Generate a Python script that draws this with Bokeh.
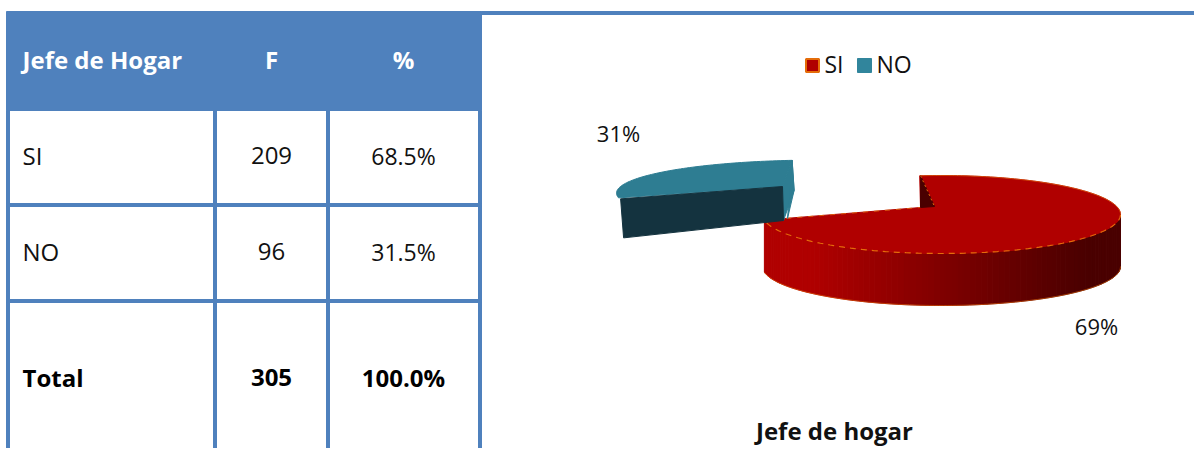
import numpy as np
from bokeh.plotting import figure
from bokeh.models import Range1d
from bokeh.core.properties import value
from bokeh.embed import file_html
from bokeh.resources import INLINE

# ---- data ----
headers = ["Jefe de Hogar", "F", "%"]
categories = ["SI", "NO"]
frequencies = [209, 96]
row_percents = ["68.5%", "31.5%"]
total_row = ["Total", "305", "100.0%"]
pie_labels = ["69%", "31%"]
chart_title = "Jefe de hogar"

# ---- style ----
BLUE = "#4f81bd"
RED = "#b00000"
RED_DARK = "#4a0000"
TEAL = "#2e7d92"
TEAL_DARK = "#14333f"
TEAL_LEGEND = "#31859c"
ORANGE = "#e46c0a"
FONT = value("Open Sans")

W, H = 1194, 448
p = figure(width=W, height=H, output_backend="svg", toolbar_location=None,
           x_range=Range1d(0, W), y_range=Range1d(H, 0),
           min_border=0)
p.axis.visible = False
p.grid.visible = False
p.outline_line_color = None

# ---- table ----
p.quad(left=[6], right=[481], top=[11], bottom=[110], color=BLUE)
p.quad(left=[481], right=[W], top=[11], bottom=[14], color=BLUE)
p.quad(left=[6, 213, 326, 478], right=[9, 216, 329, 481],
       top=[110] * 4, bottom=[H] * 4, color=BLUE)
p.quad(left=[6, 6], right=[481, 481], top=[203, 299], bottom=[206, 302], color=BLUE)

COL_X = [22, 271, 403]
ROW_Y = [155, 251]
def txt(x, y, s, size, color="#111111", align="center", style="normal"):
    p.text(x=[x], y=[y], text=[s], text_font=FONT, text_font_size=size, text_color=color,
           text_align=align, text_baseline="middle", text_font_style=style)

txt(COL_X[0], 59, headers[0], "24px", "white", "left", "bold")
txt(COL_X[1], 59, headers[1], "24px", "white", "center", "bold")
txt(COL_X[2], 59, headers[2], "24px", "white", "center", "bold")
for yy, c, f, pc in zip(ROW_Y, categories, frequencies, row_percents):
    txt(COL_X[0], yy, c, "24px", align="left")
    txt(COL_X[1], yy, str(f), "24px")
    txt(COL_X[2], yy, pc, "23px")
txt(COL_X[0], 377, total_row[0], "24px", "black", "left", "bold")
txt(COL_X[1], 377, total_row[1], "24px", "black", "center", "bold")
txt(COL_X[2], 377, total_row[2], "24px", "black", "center", "bold")

# ---- pseudo-3D pie ----
frac = frequencies[0] / sum(frequencies)
PHI0 = -7.0       # where the first slice starts on the ellipse
SKEW = 22.0       # perspective stretches the front slice
phi_split = PHI0 + 360 * frac + SKEW
phi_end = PHI0 + 360

def ell(cx, cy, a, b, phi):
    r = np.radians(phi)
    return cx + a * np.sin(r), cy - b * np.cos(r)

# red slice
R = dict(cx=941, cy=214, a=179, b=39)
D_RED = 52
apex_red = (920, 207)
edges = np.linspace(90, phi_split, 90)
for a0, a1 in zip(edges[:-1], edges[1:]):
    x0, y0 = ell(phi=a0, **R)
    x1, y1 = ell(phi=a1, **R)
    t = np.clip(((x0 + x1) / 2 - 810) / (1085 - 810), 0, 1)
    col = "#%02x%02x%02x" % (int(round(0xb0 + t * (0x4a - 0xb0))), 0, 0)
    p.patch([x0, x1, x1, x0], [y0, y1, y1 + D_RED, y0 + D_RED],
            fill_color=col, line_color=col, line_width=1)
th = np.linspace(90, phi_split, 120)
wx, wy = ell(phi=th, **R)
p.line(wx, wy + D_RED, line_color=ORANGE, line_width=1, line_alpha=0.55)

ph = np.linspace(PHI0, phi_split, 200)
xr, yr = ell(phi=ph, **R)
p.patch(np.r_[xr, apex_red[0]], np.r_[yr, apex_red[1]], fill_color=RED, line_color=RED)
p.line(xr[ph <= 90], yr[ph <= 90], line_color=ORANGE, line_width=1, line_alpha=0.6)
p.line(xr[ph >= 90], yr[ph >= 90], line_color=ORANGE, line_width=1.2, line_dash="6 5")
p.line([xr[-1], apex_red[0]], [yr[-1], apex_red[1]], line_color=ORANGE, line_width=0.8, line_dash="5 6")

# inner wall of the red slice
p.patch([xr[0] + 1, apex_red[0], 934], [yr[0], apex_red[1], 206], fill_color=RED_DARK, line_color=RED_DARK)
p.line([xr[0] + 1, 934], [yr[0], 206], line_color=ORANGE, line_width=1, line_dash="2 3")

# teal slice (exploded)
T = dict(cx=816, cy=192.6, a=200, b=33)
apex_teal = (782, 186)
D_TEAL = 38
ph_t = np.linspace(phi_split, phi_end, 80)
xt, yt = ell(phi=ph_t, **T)
# right side face
p.patch([xt[-1], apex_teal[0], apex_teal[0] + 1, xt[-1] + 2], [yt[-1], apex_teal[1], apex_teal[1] + 34, yt[-1] + 30],
        fill_color=TEAL, line_color=TEAL)
p.patch([xt[-1], xt[-1] + 2, apex_teal[0] + 5], [yt[-1], yt[-1] + 30, apex_teal[1] + 32], fill_color=TEAL, line_color=TEAL)
# top face
p.patch(np.r_[xt, apex_teal[0]], np.r_[yt, apex_teal[1]], fill_color=TEAL, line_color=TEAL)
# dark cut face
p.patch([xt[0] + 2, apex_teal[0], apex_teal[0] + 1, xt[0] + 5], [yt[0] + 1, apex_teal[1], apex_teal[1] + 34, yt[0] + 1 + D_TEAL + 1],
        fill_color=TEAL_DARK, line_color=TEAL_DARK)

# pie labels
txt(618, 132, pie_labels[1], "22px")
txt(1096, 325, pie_labels[0], "22px")

# legend
p.scatter([812], [65], marker="square", size=13, fill_color=RED, line_color=ORANGE, line_width=2)
txt(824, 63, categories[0], "23px", align="left")
p.scatter([864], [65], marker="square", size=14, fill_color=TEAL_LEGEND, line_color=TEAL_LEGEND)
txt(876, 63, categories[1], "23px", align="left")

# title, kept inside the figure
txt(834, 430, chart_title, "24px", "#111111", "center", "bold")

open("out.html", "w").write(file_html(p, INLINE))
